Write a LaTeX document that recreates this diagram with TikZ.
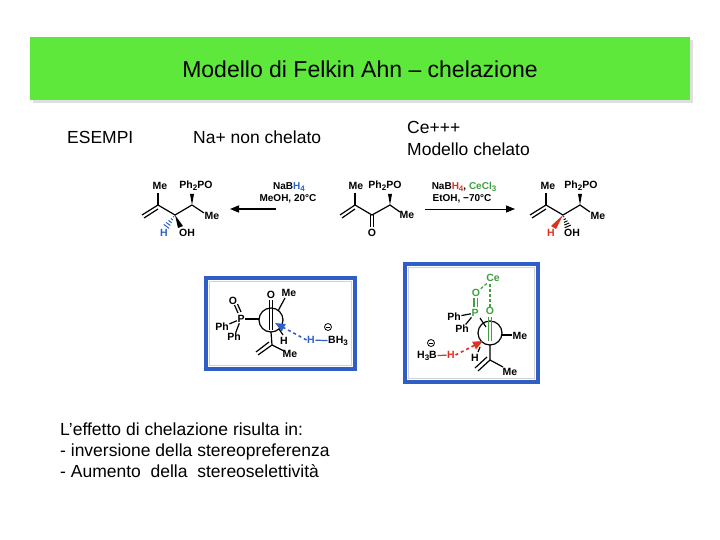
\documentclass[tikz,border=0pt]{standalone}
\usepackage{fontspec}
\setmainfont{Liberation Sans}
\usetikzlibrary{arrows.meta,calc}
\definecolor{hdr}{HTML}{5EE83C}
\definecolor{bx}{HTML}{2F5FC4}
\definecolor{hb}{HTML}{2F62C8}
\definecolor{hr}{HTML}{E03020}
\definecolor{gr}{HTML}{3FA040}
\tikzset{
 txt/.style={inner sep=0pt},
 big/.style={inner sep=0pt,anchor=west,font=\fontsize{17.5pt}{20pt}\selectfont},
 ch/.style={inner sep=0.5pt,font=\fontsize{10.5pt}{11pt}\selectfont\bfseries},
 cond/.style={inner sep=0.5pt,font=\fontsize{10pt}{11pt}\selectfont\bfseries},
 bond/.style={line width=1.2pt},
 frame/.style={draw=bx,line width=3.5pt},
 hash/.style={draw=#1,line width=1pt},
 minus/.style={circle,draw,line width=0.8pt,inner sep=0pt,minimum size=7pt,path picture={\draw[line width=0.8pt] ([xshift=1.5pt]path picture bounding box.west)--([xshift=-1.5pt]path picture bounding box.east);}}
}
\newcommand{\sbs}[1]{\raisebox{-2pt}{\fontsize{8pt}{8pt}\selectfont #1}}
\newcommand{\hashb}[3]{%
 \foreach \t in {0.15,0.35,0.55,0.75,0.95}{
  \draw[hash=#3] ($(#1)!\t!(#2)!{\t*3.5pt}!90:(#2)$) -- ($(#1)!\t!(#2)!{-\t*3.5pt}!90:(#2)$);}}
\begin{document}
\begin{tikzpicture}[x=1pt,y=-1pt]
\useasboundingbox (0,0) rectangle (720,540);
\fill[white] (0,0) rectangle (720,540);
\fill[gray!25] (33,40) rectangle (693,103);
\fill[hdr] (30,37) rectangle (690,100);
\node[txt,font=\fontsize{23pt}{26pt}\selectfont] (title) at (360,69) {Modello di Felkin Ahn – chelazione};
\node[big] (es) at (67,137) {ESEMPI};
\node[big] (na) at (193,137) {Na+ non chelato};
\node[big] (ce) at (407,127) {Ce+++};
\node[big] (mc) at (407,149) {Modello chelato};
\node[inner sep=0pt,anchor=north west,align=left,font=\fontsize{17.5pt}{21pt}\selectfont] (conc) at (60,423) {L’effetto di chelazione risulta in:\\- inversione della stereopreferenza\\- Aumento \ della \ stereoselettività};

% left product
\coordinate (a1) at (142,215); \coordinate (a2) at (158,205); \coordinate (a3) at (175,215); \coordinate (a4) at (192,205); \coordinate (a5) at (204,213);
\draw[bond] (a1)--(a2)--(a3)--(a4); \draw[bond] ($(a1)+(2,3)$)--($(a2)+(0,4)$);
\draw[bond] (a2)--(158,193); \fill (a4)--(190,194)--(194,194)--cycle; \draw[bond] (a4)--(a5);
\fill (a3)--(178,228)--(183,226)--cycle;
\coordinate (h1) at (166,227); \hashb{a3}{h1}{hb}
\node[ch] (me1) at (160,186) {Me}; \node[ch] (pp1) at (196,186) {Ph\sbs{2}PO};
\node[ch,anchor=west] (me2) at (204,216) {Me};
\node[ch,text=hb] (hh1) at (164,233) {H}; \node[ch] (oh1) at (187,233) {OH};
% middle
\coordinate (b1) at (340,215); \coordinate (b2) at (355,205); \coordinate (b3) at (372,215); \coordinate (b4) at (390,205); \coordinate (b5) at (400,212);
\draw[bond] (b1)--(b2)--(b3)--(b4)--(b5); \draw[bond] ($(b1)+(2,3)$)--($(b2)+(0,4)$);
\draw[bond] (b2)--(355,193); \fill (b4)--(388,194)--(392,194)--cycle;
\draw[bond] (370.3,215)--(370.3,227); \draw[bond] (373.7,215)--(373.7,227);
\node[ch] (me3) at (356,186) {Me}; \node[ch] (pp2) at (385,186) {Ph\sbs{2}PO};
\node[ch,anchor=west] (me4) at (399,215) {Me}; \node[ch] (o2) at (372,233) {O};
% right product
\coordinate (c1) at (530,215); \coordinate (c2) at (546,205); \coordinate (c3) at (563,215); \coordinate (c4) at (580,205); \coordinate (c5) at (590,212);
\draw[bond] (c1)--(c2)--(c3)--(c4)--(c5); \draw[bond] ($(c1)+(2,3)$)--($(c2)+(0,4)$);
\draw[bond] (c2)--(546,193); \fill (c4)--(578,194)--(582,194)--cycle;
\fill[hr] (c3)--(551,226)--(556,229)--cycle;
\coordinate (h2) at (568,227); \hashb{c3}{h2}{black}
\node[ch] (me5) at (548,186) {Me}; \node[ch] (pp3) at (581,186) {Ph\sbs{2}PO};
\node[ch,anchor=west] (me6) at (590,216) {Me};
\node[ch,text=hr] (hh2) at (551,233) {H}; \node[ch] (oh2) at (572,233) {OH};
% arrows
\coordinate (l0) at (276,209); \coordinate (l1) at (230,209);
\draw[line width=1.5pt,-{Triangle[length=9pt,width=7pt]}] (l0)--(l1);
\node[cond] (r1) at (289,187) {NaB\textcolor{hb}{H\sbs{4}}};
\node[cond] (r2) at (288,199) {MeOH, 20°C};
\coordinate (r0) at (425,209); \coordinate (rr) at (515,209);
\draw[line width=0.8pt,-{Triangle[length=9pt,width=7pt]}] (r0)--(rr);
\node[cond] (r3) at (464,187) {NaB\textcolor{hr}{H\sbs{4}}, \textcolor{gr}{CeCl\sbs{3}}};
\node[cond] (r4) at (462,199) {EtOH, −70°C};

% box 1
\draw[frame] (206,278) rectangle (355,369);
\draw[gray!35,line width=1.5pt] (209.5,281.5) rectangle (351.5,365.5);
\coordinate (k1) at (271,320);
\draw[bond] (k1) circle (12);
\draw[bond] (269.3,300)--(269.3,330); \draw[bond] (272.7,300)--(272.7,330);
\node[ch] (o3) at (271,295) {O}; \node[ch] (me7) at (289,293) {Me};
\draw[bond] (278,311)--(285,298);
\node[ch] (p1) at (241,319) {P}; \node[ch] (o4) at (233,301) {O};
\draw[bond] (234.5,305)--(238,313); \draw[bond] (237.5,304)--(241,312);
\draw[bond] (p1)--(259,319);
\node[ch] (ph1) at (222,327) {Ph}; \node[ch] (ph2) at (234,337) {Ph};
\draw[bond] (p1)--(ph1); \draw[bond] (p1)--(ph2);
\draw[bond] (271,332)--(272,345)--(284,351);
\draw[bond] (272,345)--(258,355); \draw[bond] (269,342)--(256,352);
\node[ch] (me8) at (290,354) {Me};
\draw[bond] (279,329)--(283,335); \node[ch] (h3) at (284,341) {H};
\node[ch,text=hb] (h4) at (311,340) {H};
\node[ch] (bh3) at (338,341) {BH\sbs{3}};
\draw[hb,bond] (h4)--(bh3);
\node[minus] (m1) at (328,327) {};
\draw[hb,line width=1.6pt,dashed,-{Triangle[length=10pt,width=8pt]}] (h4.west)--(275,323);

% box 2
\draw[frame] (405,264) rectangle (538,382);
\draw[gray!35,line width=1.5pt] (408.5,267.5) rectangle (534.5,378.5);
\coordinate (k2) at (490,333);
\draw[bond] (k2) circle (12);
\node[ch,text=gr] (ce1) at (493,278) {Ce};
\node[ch,text=gr] (o5) at (476,293) {O};
\node[ch,text=gr] (p2) at (475,313) {P};
\node[ch,text=gr] (o6) at (490,311) {O};
\draw[gr,bond] (474,298)--(474,307); \draw[gr,bond] (477.5,298)--(477.5,307);
\draw[gr,bond] (488.3,317)--(488.3,341); \draw[gr,bond] (491.7,317)--(491.7,341);
\draw[gr,bond,densely dashed] (o5)--(ce1); \draw[gr,bond,densely dashed] (490,284)--(o6);
\node[ch] (ph3) at (454,317) {Ph}; \node[ch] (ph4) at (462,329) {Ph};
\draw[bond] (ph3)--(p2); \draw[bond] (ph4)--(p2);
\draw[bond] (480,318)--(486,327);
\draw[bond] (502,335)--(512,335); \node[ch,anchor=west] (me9) at (512,336) {Me};
\draw[bond] (490,345)--(490,360)--(503,367);
\draw[bond] (490,360)--(478,371); \draw[bond] (487,357)--(475,368);
\node[ch] (me10) at (510,372) {Me};
\draw[bond] (480,347)--(478,352); \node[ch] (h5) at (475,358) {H};
\node[ch] (bh) at (427,356) {H\sbs{3}B};
\node[minus] (m2) at (431,343) {};
\node[ch,text=hr] (h6) at (451,355) {H};
\draw[hr,bond] (bh)--(h6);
\draw[hr,line width=1.6pt,dashed,-{Triangle[length=10pt,width=8pt]}] (h6.east)--(483,341);
\end{tikzpicture}
\end{document}
